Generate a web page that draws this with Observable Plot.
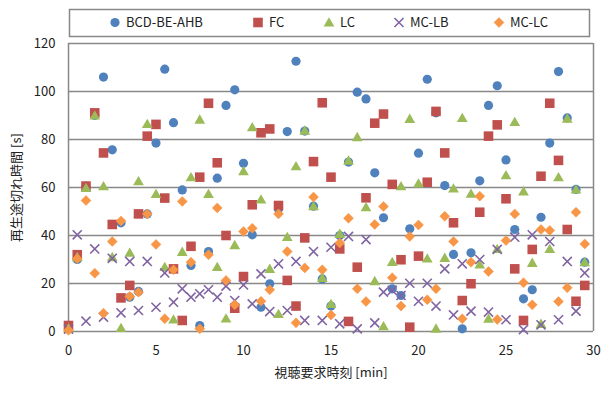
<!DOCTYPE html>
<html>
<head>
<meta charset="utf-8">
<script src="https://cdn.jsdelivr.net/npm/d3@7"></script>
<script src="https://cdn.jsdelivr.net/npm/@observablehq/plot@0.6"></script>
<style>
  html, body { margin: 0; padding: 0; background: #fff; }
  #chart { position: relative; width: 602px; height: 394px; }
</style>
</head>
<body>
<div id="chart"></div>
<script>
// ---- data ----
const times = [0,0.5,1,1.5,2,2.5,3,3.5,4,4.5,5,5.5,6,6.5,7,7.5,8,8.5,9,9.5,
  10,10.5,11,11.5,12,12.5,13,13.5,14,14.5,15,15.5,16,16.5,17,17.5,18,18.5,19,19.5,
  20,20.5,21,21.5,22,22.5,23,23.5,24,24.5,25,25.5,26,26.5,27,27.5,28,28.5,29,29.5];

const seriesNames = ["BCD-BE-AHB", "FC", "LC", "MC-LB", "MC-LC"];

const bcdBeAhb = [1,30,60.5,90,106,75.7,45.3,14.3,16.7,49,78.5,109.3,87,59,27.5,2.5,33.3,63.9,94.2,100.7,
  70.1,40.3,10.1,19.9,51,83.3,112.6,83.5,52.2,21.9,10.6,40,70.6,99.7,96.9,66.1,47.4,17.8,15,42.8,
  74.3,105.1,91.1,60.8,32.1,1.1,32.8,62.8,94.2,102.4,71.5,42.5,13.6,17.4,47.6,78.5,108.3,89,59.2,28.9];

const fc = [2.5,32,60.6,91.1,74.4,44.6,14,19.2,49,81.4,86.3,55.6,26.1,4.6,35.5,64.3,95.1,70.3,40,9.7,
  22.9,52.8,82.8,84.4,52.5,21.3,10.6,39,70.8,95.3,64.3,34.4,4.2,26.8,55.7,86.8,90.6,61.3,29.9,1.8,
  31.4,62.2,91.7,74.4,45.3,12.9,19.9,49.7,81.4,86.1,55.3,26.1,4.6,34.2,64.7,95.1,71.3,42.5,12.6,19.2];

const lc = [1,30.6,59.4,89.6,60.1,30.6,1.1,32.4,62.2,86.1,56.9,26.5,4.6,32.8,63.9,87.9,56.9,26.5,5,35.6,
  66.4,84.7,54.6,25.7,6.9,39,68.5,83.3,51.8,21.9,11.1,40.3,70.8,80.6,51.4,20.6,1.8,28.6,60.1,88.2,
  61.3,30,0.8,30.3,59.2,88.6,57,27.5,4.9,34,64.7,86.9,58,28.2,2.8,34,63.9,88.3,58.8,28.5];

const mcLb = [1,40.3,4.3,34.4,6,30.5,7.8,29.2,8.75,29.2,10.1,24.4,12.2,17.8,14.3,15.7,17.4,14.3,18.9,12.9,
  19.4,11.5,24,8.3,28.2,8.75,29.2,4.6,33.3,4.6,35.1,3.2,39.6,1.1,38.3,3.6,16.4,17.1,15,20.1,
  12.6,20.1,10.6,26.1,6.9,28.2,8.5,30,8.1,34.2,4.9,39.3,0.8,40.3,2.8,37.5,4.9,29.2,8.5,24.4];

const mcLc = [0.5,30.3,54.6,24.3,7.6,37.5,46,14.6,16.4,49,36.3,5.3,25.7,54.2,28.9,1.1,32,51.5,21.3,11.1,
  41.7,43,12.6,17.4,49,33.3,3.6,26.5,56,25.7,6.9,36.9,47.2,17.8,12.5,44.6,52.1,22.4,10.6,39.6,
  44.4,13.2,17.8,48,37.5,5.3,28.9,56.4,25,5,37.9,49,20.3,11.1,42.5,42.1,12.5,18.2,49.7,36.5];

const xTicks = [0, 5, 10, 15, 20, 25, 30];
const yTicks = [0, 20, 40, 60, 80, 100, 120];

// ---- styling ----
const colors = ["#4f81bd", "#c0504d", "#9bbb59", "#8064a2", "#f79646"];
const symbols = ["circle", "square", "triangle", "times", "diamond2"];
const radii = [4.6, 5.4, 4.0, 4.2, 4.5];
const allSeries = [bcdBeAhb, fc, lc, mcLb, mcLc];

const tables = allSeries.map(vals => times.map((t, i) => ({t, v: vals[i]})));

const font = "'Noto Sans CJK JP', 'Liberation Sans', sans-serif";

const dotMarks = tables.map((rows, k) => {
  const isStroke = symbols[k] === "times";
  return Plot.dot(rows, {
    x: "t", y: "v",
    symbol: () => symbols[k],
    r: radii[k],
    fill: isStroke ? "none" : colors[k],
    stroke: colors[k],
    strokeWidth: isStroke ? 1.6 : (symbols[k] === "diamond2" ? 0.5 : 0)
  });
});

const chart = Plot.plot({
  width: 602,
  height: 394,
  marginTop: 43,
  marginLeft: 68,
  marginRight: 9,
  marginBottom: 63,
  style: {fontFamily: font, fontSize: "13px", color: "#222", background: "#fff"},
  x: {domain: [0, 30]},
  y: {domain: [0, 120]},
  symbol: {type: "identity"},
  marks: [
    Plot.ruleY(yTicks, {stroke: "#888", strokeWidth: 1.5}),
    Plot.ruleX([0, 30], {stroke: "#888", strokeWidth: 1.5}),
    Plot.axisX({ticks: xTicks, tickSize: 0, tickPadding: 14, tickFormat: d => String(d),
      label: "視聴要求時刻 [min]", labelAnchor: "center", labelOffset: 45, labelArrow: "none", fontSize: 13}),
    Plot.axisY({ticks: yTicks, tickSize: 0, tickPadding: 13, tickFormat: d => String(d),
      label: "再生途切れ時間 [s]", labelAnchor: "center", labelOffset: 57, labelArrow: "none", fontSize: 13}),
    ...dotMarks
  ]
});

document.getElementById("chart").appendChild(chart);

// ---- legend (inside the top margin) ----
const svg = d3.select(chart);
const lg = svg.append("g").attr("class", "legend").attr("text-anchor", "start");
lg.append("rect").attr("x", 69.5).attr("y", 9.5).attr("width", 520).attr("height", 27)
  .attr("fill", "#fff").attr("stroke", "#888").attr("stroke-width", 1.5);
const symX = [115, 258, 329, 399, 499];
const d3sym = [d3.symbolCircle, d3.symbolSquare, d3.symbolTriangle, d3.symbolTimes, d3.symbolDiamond2];
seriesNames.forEach((name, k) => {
  const size = Math.PI * radii[k] * radii[k];
  const isStroke = k === 3;
  lg.append("path")
    .attr("transform", `translate(${symX[k]},${k === 2 ? 23.5 : 22.5})`)
    .attr("d", d3.symbol(d3sym[k], size)())
    .attr("fill", isStroke ? "none" : colors[k])
    .attr("stroke", colors[k])
    .attr("stroke-width", isStroke ? 1.6 : (k === 4 ? 0.5 : 0));
  lg.append("text")
    .attr("x", symX[k] + 11).attr("y", 22.5).attr("dy", "0.35em")
    .attr("text-anchor", "start")
    .attr("font-family", font).attr("font-size", 13).attr("fill", "#222")
    .text(name);
});
</script>
</body>
</html>
